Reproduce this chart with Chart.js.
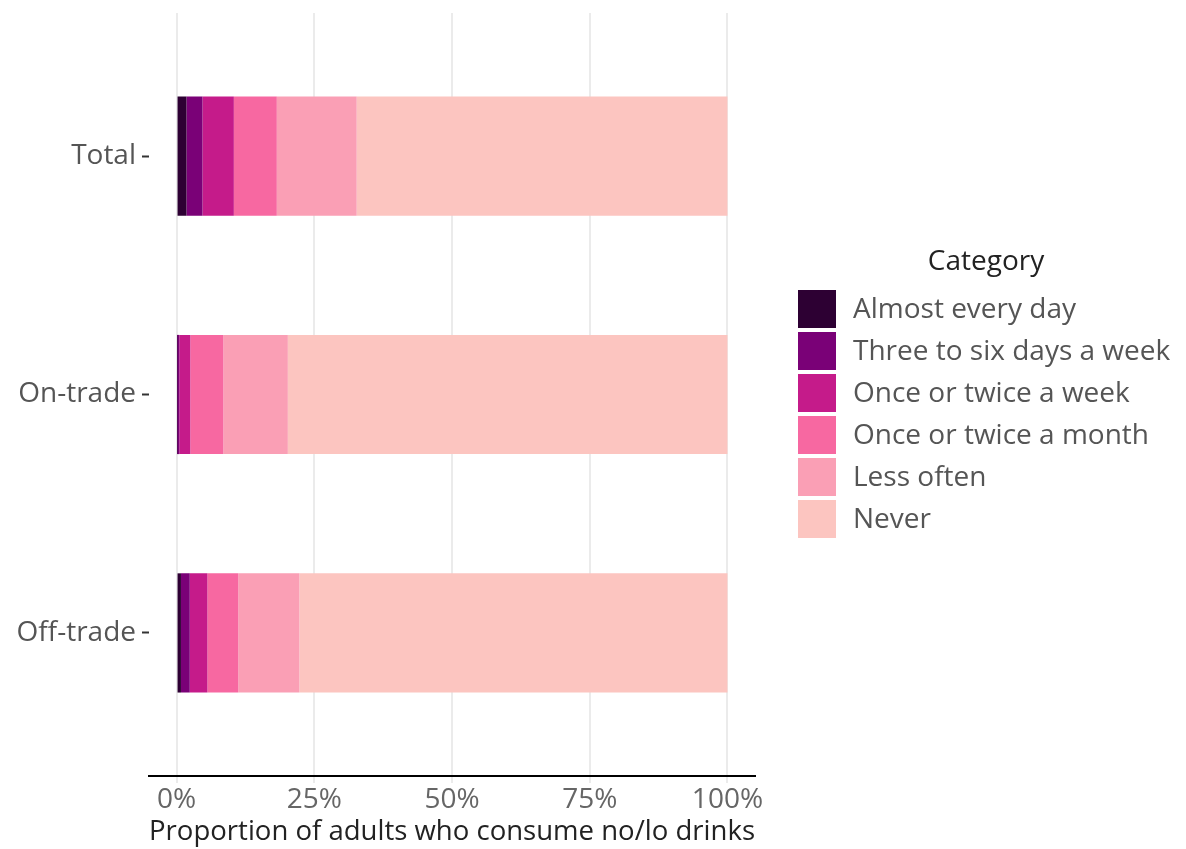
<!DOCTYPE html>
<html>
<head>
<meta charset="utf-8">
<script src="https://cdn.jsdelivr.net/npm/chart.js@4"></script>
<style>
  body { margin: 0; background: #fff; }
  #wrap { width: 1186px; height: 849px; }
</style>
</head>
<body>
<div id="wrap"><canvas id="chart" width="1186" height="849"></canvas></div>
<script>
const groups = ["Total", "On-trade", "Off-trade"];
const categories = ["Almost every day", "Three to six days a week", "Once or twice a week",
                    "Once or twice a month", "Less often", "Never"];
const colors = ["#2d0033", "#7a0177", "#c51b8a", "#f768a1", "#fa9fb5", "#fcc5c0"];

// percent of adults, one array per frequency category (Total, On-trade, Off-trade)
const almostEveryDay = [1.8, 0.1, 0.8];
const threeToSix     = [2.9, 0.4, 1.6];
const onceTwiceWeek  = [5.7, 2.0, 3.2];
const onceTwiceMonth = [7.8, 6.0, 5.6];
const lessOften      = [14.5, 11.7, 11.1];
const never          = [67.3, 79.8, 77.7];
const xTicks = [0, 25, 50, 75, 100];

const series = [almostEveryDay, threeToSix, onceTwiceWeek, onceTwiceMonth, lessOften, never];
const FONT = "Open Sans";
const SIZE = 28;

const datasets = series.map((vals, i) => ({
    label: categories[i],
    data: vals.map((v, j) => ({ x: v, y: j + 1 })),
    backgroundColor: colors[i],
    borderWidth: 0,
    barPercentage: 0.5,
    categoryPercentage: 1
}));

// legend drawn by hand, ggplot style (title above a column of square keys)
const sideLegend = {
    id: "sideLegend",
    afterDraw(chart) {
        const ctx = chart.ctx;
        const area = chart.chartArea;
        const x0 = area.right + 43;
        const y0 = 290;
        const box = 38, step = 42;
        ctx.save();
        ctx.font = `${SIZE}px "${FONT}"`;
        ctx.textBaseline = "middle";
        ctx.fillStyle = "#222";
        ctx.textAlign = "center";
        ctx.fillText("Category", x0 + 188, y0 - 28);
        ctx.textAlign = "left";
        chart.data.datasets.forEach((ds, i) => {
            const y = y0 + i * step;
            ctx.fillStyle = ds.backgroundColor;
            ctx.fillRect(x0, y, box, box);
            ctx.fillStyle = "#555";
            ctx.fillText(ds.label, x0 + box + 17, y + box / 2 + 1);
        });
        ctx.restore();
    }
};

new Chart(document.getElementById("chart"), {
    type: "bar",
    data: { datasets },
    plugins: [sideLegend],
    options: {
        indexAxis: "y",
        responsive: false,
        animation: false,
        events: [],
        layout: { padding: { top: 13, left: 10, right: 431, bottom: 0 } },
        scales: {
            x: {
                type: "linear",
                stacked: true,
                min: -5,
                max: 105,
                afterBuildTicks: axis => { axis.ticks = xTicks.map(v => ({ value: v })); },
                afterFit: axis => { axis.height = 73; },
                grid: { color: "#ebebeb", lineWidth: 2, tickLength: 7 },
                border: { display: true, color: "#000", width: 2 },
                ticks: {
                    color: "#666",
                    font: { family: FONT, size: SIZE },
                    padding: 0,
                    maxRotation: 0,
                    callback: v => v + "%"
                },
                title: {
                    display: true,
                    text: "Proportion of adults who consume no/lo drinks",
                    color: "#222",
                    font: { family: FONT, size: SIZE },
                    padding: { top: 0, bottom: 0 }
                }
            },
            y: {
                type: "linear",
                stacked: true,
                reverse: true,
                offset: false,
                min: 0.4,
                max: 3.6,
                afterBuildTicks: axis => { axis.ticks = groups.map((g, i) => ({ value: i + 1 })); },
                afterFit: axis => {
                    axis.width = 139;
                    axis.paddingTop = 0;
                    axis.paddingBottom = 0;
                },
                grid: { offset: false, drawOnChartArea: false, tickLength: 7, tickColor: "#333", tickWidth: 2 },
                border: { display: false },
                ticks: {
                    color: "#555",
                    font: { family: FONT, size: SIZE },
                    padding: 6,
                    callback: v => groups[v - 1]
                }
            }
        },
        plugins: {
            tooltip: { enabled: false },
            legend: { display: false }
        }
    }
});
</script>
</body>
</html>
